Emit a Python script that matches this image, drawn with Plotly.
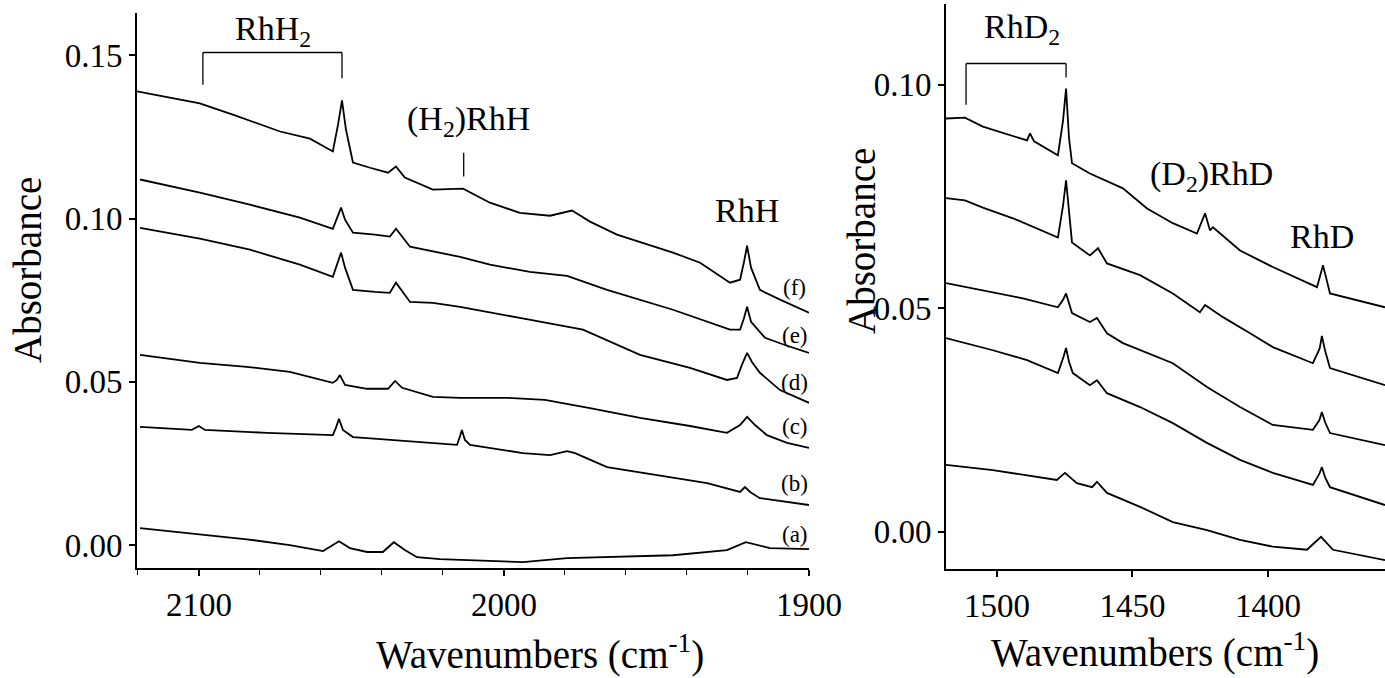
import plotly.graph_objects as go

# ---------------- Left panel (RhH / H2) ----------------
a_x = [2119.3, 2084.3, 2070.2, 2059.3, 2054.1, 2050.5, 2044.9, 2039.7, 2036.1, 2032.5, 2028.5, 2021.0, 1993.8, 1979.3, 1944.6, 1926.9, 1920.7, 1912.8, 1900]
a_y = [0.0052, 0.0018, 0.0000, -0.0018, 0.0012, -0.0009, -0.0021, -0.0021, 0.0009, -0.0015, -0.0037, -0.0043, -0.0052, -0.0040, -0.0031, -0.0015, 0.0009, -0.0009, -0.0012]

b_x = [2119.3, 2102.3, 2100.0, 2098.0, 2077.7, 2056.1, 2055.1, 2054.1, 2052.8, 2049.5, 2044.9, 2023.3, 2015.4, 2014.4, 2013.8, 2012.8, 2011.1, 1993.8, 1984.9, 1979.3, 1976.7, 1966.2, 1933.4, 1922.6, 1921.0, 1919.3, 1916.1, 1900]
b_y = [0.0362, 0.0353, 0.0365, 0.0353, 0.0344, 0.0337, 0.0359, 0.0387, 0.0353, 0.0331, 0.0328, 0.0313, 0.0307, 0.0334, 0.0353, 0.0322, 0.0307, 0.0282, 0.0276, 0.0288, 0.0282, 0.0239, 0.0190, 0.0163, 0.0178, 0.0163, 0.0144, 0.0123]

c_x = [2119.3, 2099.7, 2084.3, 2070.2, 2056.1, 2054.8, 2053.8, 2052.1, 2044.9, 2038.0, 2035.7, 2033.4, 2023.3, 2014.4, 1999.0, 1986.6, 1971.8, 1955.4, 1939.0, 1926.9, 1922.6, 1920.3, 1917.7, 1913.8, 1907.2, 1900]
c_y = [0.0583, 0.0558, 0.0546, 0.0531, 0.0497, 0.0506, 0.0521, 0.0491, 0.0479, 0.0479, 0.0503, 0.0482, 0.0454, 0.0451, 0.0451, 0.0445, 0.0420, 0.0390, 0.0365, 0.0344, 0.0368, 0.0393, 0.0368, 0.0337, 0.0313, 0.0298]

d_x = [2119.3, 2099.7, 2083.3, 2066.9, 2056.1, 2054.4, 2053.4, 2052.1, 2049.5, 2042.3, 2037.4, 2035.4, 2030.8, 2023.3, 2014.4, 1994.8, 1974.1, 1955.4, 1939.0, 1926.9, 1923.6, 1922.0, 1920.3, 1918.7, 1916.1, 1909.5, 1900]
d_y = [0.0972, 0.0939, 0.0905, 0.0859, 0.0822, 0.0868, 0.0896, 0.0850, 0.0782, 0.0776, 0.0773, 0.0804, 0.0745, 0.0742, 0.0730, 0.0696, 0.0660, 0.0583, 0.0543, 0.0506, 0.0512, 0.0552, 0.0589, 0.0561, 0.0528, 0.0475, 0.0436]

e_x = [2119.3, 2099.7, 2083.3, 2066.9, 2056.1, 2054.4, 2053.4, 2052.1, 2049.5, 2042.3, 2037.4, 2035.4, 2030.8, 2014.4, 2004.6, 1991.5, 1979.3, 1966.2, 1944.6, 1925.9, 1922.6, 1921.3, 1920.3, 1919.0, 1914.4, 1907.9, 1900]
e_y = [0.1120, 0.1080, 0.1043, 0.1003, 0.0969, 0.1012, 0.1034, 0.0997, 0.0957, 0.0951, 0.0945, 0.0969, 0.0914, 0.0883, 0.0859, 0.0837, 0.0825, 0.0782, 0.0721, 0.0660, 0.0660, 0.0696, 0.0730, 0.0684, 0.0635, 0.0613, 0.0589]

f_x = [2120.3, 2099.7, 2088.9, 2073.4, 2063.6, 2058.7, 2056.1, 2054.4, 2053.1, 2051.8, 2049.5, 2043.9, 2038.0, 2035.4, 2032.5, 2023.3, 2013.4, 2004.6, 1994.8, 1984.9, 1977.7, 1971.8, 1962.95, 1944.6, 1935.7, 1925.9, 1922.6, 1921.3, 1920.3, 1919.0, 1916.1, 1909.5, 1900]
f_y = [0.1390, 0.1353, 0.1319, 0.1267, 0.1245, 0.1218, 0.1206, 0.1288, 0.1362, 0.1273, 0.1172, 0.1156, 0.1141, 0.1160, 0.1126, 0.1089, 0.1092, 0.1049, 0.1018, 0.1009, 0.1025, 0.0991, 0.0951, 0.0896, 0.0865, 0.0804, 0.0813, 0.0868, 0.0917, 0.0850, 0.0782, 0.0752, 0.0712]

left_series = [("(a)", a_x, a_y), ("(b)", b_x, b_y), ("(c)", c_x, c_y),
               ("(d)", d_x, d_y), ("(e)", e_x, e_y), ("(f)", f_x, f_y)]
trace_label_y = [0.0034, 0.0190, 0.0362, 0.0497, 0.0641, 0.0788]
trace_label_x = 1904.6

# ---------------- Right panel (RhD / D2) ----------------
r1_x = [1518.8, 1501.5, 1477.9, 1474.9, 1470.5, 1464.9, 1463.1, 1459.4, 1447.2, 1435.1, 1422.5, 1410.3, 1398.2, 1385.6, 1380.4, 1376.0, 1356.8]
r1_y = [0.0150, 0.0138, 0.0116, 0.0132, 0.0109, 0.0100, 0.0112, 0.0087, 0.0056, 0.0022, 0.0004, -0.0018, -0.0033, -0.0040, -0.0011, -0.0040, -0.0063]

r2_x = [1518.8, 1501.5, 1488.9, 1477.5, 1475.5, 1474.5, 1473.4, 1472.0, 1465.7, 1463.1, 1459.4, 1447.2, 1435.1, 1422.5, 1410.3, 1398.2, 1383.4, 1381.0, 1380.1, 1378.9, 1377.1, 1356.8]
r2_y = [0.0433, 0.0406, 0.0384, 0.0355, 0.0390, 0.0411, 0.0380, 0.0355, 0.0328, 0.0339, 0.0310, 0.0279, 0.0243, 0.0199, 0.0161, 0.0132, 0.0105, 0.0130, 0.0145, 0.0122, 0.0100, 0.0060]

r3_x = [1518.8, 1505.2, 1490.4, 1477.5, 1475.5, 1474.5, 1473.4, 1472.3, 1465.7, 1463.1, 1459.4, 1453.5, 1435.1, 1422.5, 1410.3, 1398.2, 1383.4, 1381.0, 1380.1, 1378.9, 1377.1, 1356.8]
r3_y = [0.0556, 0.0540, 0.0522, 0.0502, 0.0520, 0.0533, 0.0510, 0.0489, 0.0469, 0.0478, 0.0444, 0.0422, 0.0377, 0.0324, 0.0279, 0.0239, 0.0228, 0.0250, 0.0268, 0.0245, 0.0221, 0.0194]

r4_x = [1518.8, 1511.8, 1505.2, 1494.1, 1477.5, 1475.6, 1474.5, 1473.4, 1472.3, 1465.7, 1462.7, 1459.4, 1447.2, 1435.1, 1425.1, 1423.2, 1416.6, 1406.6, 1398.2, 1383.4, 1380.9, 1380.1, 1378.9, 1377.1, 1356.8]
r4_y = [0.0746, 0.0741, 0.0725, 0.0701, 0.0658, 0.0730, 0.0786, 0.0710, 0.0647, 0.0618, 0.0634, 0.0600, 0.0574, 0.0533, 0.0491, 0.0507, 0.0480, 0.0444, 0.0413, 0.0377, 0.0410, 0.0438, 0.0405, 0.0366, 0.0328]

r5_x = [1518.8, 1511.8, 1505.2, 1494.1, 1488.9, 1487.8, 1486.3, 1477.5, 1475.6, 1474.5, 1473.4, 1472.3, 1465.7, 1453.5, 1444.6, 1435.1, 1426.2, 1423.2, 1421.4, 1420.3, 1410.3, 1398.2, 1381.9, 1380.4, 1379.7, 1378.6, 1377.1, 1356.8]
r5_y = [0.0924, 0.0926, 0.0906, 0.0886, 0.0875, 0.0891, 0.0873, 0.0842, 0.0920, 0.0991, 0.0880, 0.0824, 0.0801, 0.0768, 0.0723, 0.0690, 0.0667, 0.0712, 0.0674, 0.0681, 0.0629, 0.0592, 0.0547, 0.0580, 0.0596, 0.0570, 0.0533, 0.0502]

right_series = [(r1_x, r1_y), (r2_x, r2_y), (r3_x, r3_y), (r4_x, r4_y), (r5_x, r5_y)]

FONT = "Liberation Serif, Times New Roman, DejaVu Serif, serif"
LINE_W = 1.8
W, H = 1385, 678

fig = go.Figure()
for name, xs, ys in left_series:
    fig.add_trace(go.Scatter(x=xs, y=ys, mode="lines", line=dict(color="black", width=LINE_W),
                             xaxis="x", yaxis="y", showlegend=False, hoverinfo="skip"))
for xs, ys in right_series:
    fig.add_trace(go.Scatter(x=xs, y=ys, mode="lines", line=dict(color="black", width=LINE_W),
                             xaxis="x2", yaxis="y2", showlegend=False, hoverinfo="skip"))

annotations = []
for (name, _, _), ly in zip(left_series, trace_label_y):
    annotations.append(dict(x=trace_label_x, y=ly, xref="x", yref="y", text=name, showarrow=False,
                            font=dict(family=FONT, size=23, color="black"), xanchor="center", yanchor="middle"))

ann_font = dict(family=FONT, size=34, color="black")
annotations += [
    dict(x=2075.7, y=0.1575, xref="x", yref="y", text="RhH<sub>2</sub>", showarrow=False, font=ann_font),
    dict(x=2011.5, y=0.1300, xref="x", yref="y", text="(H<sub>2</sub>)RhH", showarrow=False, font=ann_font),
    dict(x=1920.3, y=0.1025, xref="x", yref="y", text="RhH", showarrow=False, font=ann_font),
    dict(x=1490.8, y=0.1125, xref="x2", yref="y2", text="RhD<sub>2</sub>", showarrow=False, font=ann_font),
    dict(x=1421.0, y=0.0795, xref="x2", yref="y2", text="(D<sub>2</sub>)RhD", showarrow=False, font=ann_font),
    dict(x=1380.1, y=0.0660, xref="x2", yref="y2", text="RhD", showarrow=False, font=ann_font),
]

title_font = dict(family=FONT, size=39, color="black")
annotations += [
    dict(x=28 / W, y=1 - 270 / H, xref="paper", yref="paper", text="Absorbance", textangle=-90,
         showarrow=False, font=title_font, xanchor="center", yanchor="middle"),
    dict(x=861 / W, y=1 - 241 / H, xref="paper", yref="paper", text="Absorbance", textangle=-90,
         showarrow=False, font=title_font, xanchor="center", yanchor="middle"),
    dict(x=540 / W, y=1 - 652 / H, xref="paper", yref="paper", text="Wavenumbers (cm<sup>-1</sup>)",
         showarrow=False, font=title_font, xanchor="center", yanchor="middle"),
    dict(x=1155 / W, y=1 - 650 / H, xref="paper", yref="paper", text="Wavenumbers (cm<sup>-1</sup>)",
         showarrow=False, font=title_font, xanchor="center", yanchor="middle"),
]

lw = dict(color="black", width=1.3)
shapes = [
    dict(type="line", xref="x", yref="y", x0=2098.7, x1=2053.1, y0=0.1509, y1=0.1509, line=lw),
    dict(type="line", xref="x", yref="y", x0=2098.7, x1=2098.7, y0=0.1509, y1=0.1410, line=lw),
    dict(type="line", xref="x", yref="y", x0=2053.1, x1=2053.1, y0=0.1509, y1=0.1430, line=lw),
    dict(type="line", xref="x", yref="y", x0=2013.2, x1=2013.2, y0=0.1202, y1=0.1129, line=lw),
    dict(type="line", xref="x2", yref="y2", x0=1511.4, x1=1474.5, y0=0.1047, y1=0.1047, line=lw),
    dict(type="line", xref="x2", yref="y2", x0=1511.4, x1=1511.4, y0=0.1047, y1=0.0955, line=lw),
    dict(type="line", xref="x2", yref="y2", x0=1474.5, x1=1474.5, y0=0.1047, y1=0.1016, line=lw),
]

tick_font = dict(family=FONT, size=33, color="black")
axis_common = dict(showgrid=False, zeroline=False, showline=True, linecolor="black", linewidth=2,
                   ticks="outside", ticklen=6, tickwidth=1.5, tickcolor="black", tickfont=tick_font,
                   automargin=False)

fig.update_layout(
    template="none",
    width=W, height=H, autosize=False,
    margin=dict(l=0, r=0, t=0, b=0, pad=0, autoexpand=False),
    paper_bgcolor="white", plot_bgcolor="white",
    showlegend=False,
    font=dict(family=FONT, color="black"),
    xaxis=dict(domain=[137 / W, 809 / W], range=[2120.3, 1900], autorange=False,
               tickmode="linear", tick0=1900, dtick=100,
               minor=dict(ticks="outside", ticklen=5, tickcolor="black", tickwidth=1.2, dtick=20, tick0=1900),
               anchor="y", **axis_common),
    yaxis=dict(domain=[1 - 568 / H, 1 - 13 / H], range=[-0.007, 0.163], autorange=False,
               tickmode="linear", tick0=0, dtick=0.05, tickformat=".2f", anchor="x", **axis_common),
    xaxis2=dict(domain=[946 / W, 1.0], range=[1518.8, 1356.8], autorange=False,
                tickmode="linear", tick0=1400, dtick=50, anchor="y2", **axis_common),
    yaxis2=dict(domain=[1 - 569 / H, 1 - 4 / H], range=[-0.0083, 0.118], autorange=False,
                tickmode="linear", tick0=0, dtick=0.05, tickformat=".2f", anchor="x2", **axis_common),
    annotations=annotations,
    shapes=shapes,
)

post = ("document.body.style.margin='0px';document.body.style.padding='0px';"
        "document.documentElement.style.overflow='hidden';document.body.style.overflow='hidden';")

fig.write_html("out.html", config={"displayModeBar": False}, post_script=post)
